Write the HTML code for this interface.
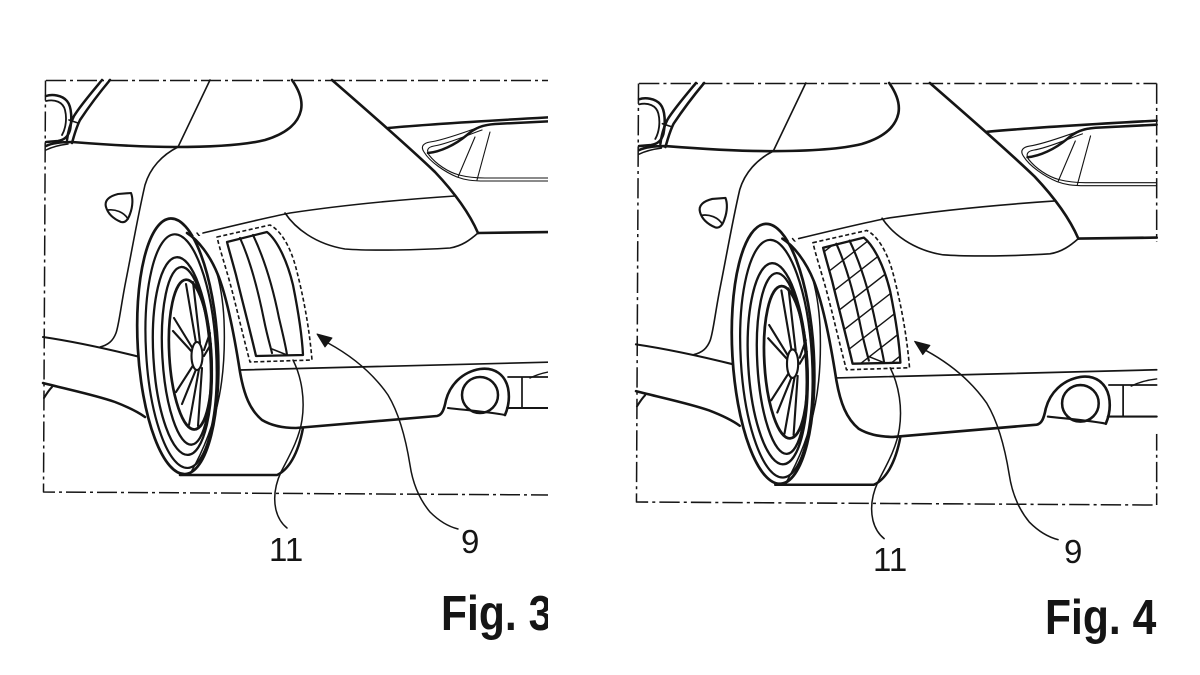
<!DOCTYPE html>
<html><head><meta charset="utf-8"><style>
html,body{margin:0;padding:0;background:#fff;}
svg{display:block;}
text{font-family:"Liberation Sans",Arial,sans-serif;fill:#151515;}
</style></head><body>
<svg width="1200" height="675" viewBox="0 0 1200 675" xmlns="http://www.w3.org/2000/svg">
<defs>
<clipPath id="c3"><rect x="0" y="0" width="548" height="675"/></clipPath>
<clipPath id="vc"><path d="M227,242 L267,232 C277,240 287,260 293,285 C298,310 302,335 303,355 L256,356 C250,330 242,300 236,275 C232,260 229,250 227,242 Z"/></clipPath>
<g id="car" fill="none" stroke="#151515" stroke-linecap="round" stroke-linejoin="round">
  <!-- frame -->
  <path d="M46,80.5 L555,80.5 M45.5,80.5 L43.5,492 L555,495 M555,80.5 L555,495" stroke-width="1.5" stroke-dasharray="20 4 3 4" stroke-linecap="butt"/>
  <!-- mirror -->
  <path d="M46,96 C52,94 62,95 67,101 C72,107 72,120 70,130 C68,137 64,140 58,141 L46,142" stroke-width="2.5"/>
  <path d="M46,101 C55,99 63,102 65,110 C67,118 66,128 62,135" stroke-width="1.8"/>
  <!-- A pillar -->
  <path d="M102,80 C92,92 80,106 74,116 C70,124 68,132 67,140" stroke-width="2.5"/>
  <path d="M110,80 C100,92 88,108 80,120 C76,128 74,136 72,143" stroke-width="2.5"/>
  <path d="M69,120 L78,123" stroke-width="1.6"/>
  <!-- window bottom / quarter window -->
  <path d="M46,146 C52,143 60,142 72,142 C110,145 150,147 175,147 C210,147 245,145 265,140 C285,134 298,124 301,110 C303,100 299,90 292,80" stroke-width="2.6"/>
  <path d="M46,150 C52,147 60,145 68,144" stroke-width="1.5"/>
  <!-- door / B line -->
  <path d="M210,80 L178,147 C162,155 150,168 145,185 C138,215 132,250 126,280 C121,305 119,325 116,333 C113,341 108,345 100,347" stroke-width="1.6"/>
  <!-- fuel cap -->
  <path d="M106,207 C104,200 110,196 118,194 L131,193 C133,198 133,206 130,214 C128,220 125,223 121,222 C114,219 108,214 106,207 Z" stroke-width="2.1"/>
  <path d="M108,210 C115,209 124,212 128,219" stroke-width="1.7"/>
  <!-- sill -->
  <path d="M43,337 C70,341 100,347 140,357" stroke-width="2.1"/>
  <path d="M43,383 C70,390 95,395 115,402 C128,407 138,412 145,417" stroke-width="2.5"/>
  <path d="M44,398 C47,393 49,390 52,387" stroke-width="2"/>
  <!-- wheel -->
  <g transform="rotate(-3.3 183 350)">
    <ellipse cx="178" cy="346" rx="40" ry="128" fill="#fff" stroke-width="2.7"/>
    <ellipse cx="181" cy="351" rx="35" ry="117" stroke-width="2.2"/>
    <ellipse cx="182" cy="356" rx="29" ry="99" stroke-width="2.3"/>
    <ellipse cx="186" cy="356" rx="24" ry="89" stroke-width="2.3"/>
    <ellipse cx="190" cy="355" rx="21" ry="75" stroke-width="2.7"/>
  </g>
  <path d="M196,343 L186,284 M200,343 L193,282 M193,349 L174,318 M193,353 L173,331 M194,364 L176,392 M197,367 L182,404 M199,369 L189,425 M202,368 L198,426 M204,350 L210,333 M204,356 L211,344" stroke-width="2.1"/>
  <ellipse cx="197" cy="356" rx="5.5" ry="14" fill="#fff" stroke-width="2.1"/>
  <path d="M197,233 C212,250 222,280 224,320 C226,370 221,420 190,474" stroke-width="1.5"/>
  <path d="M180,475 L277,475 C288,470 298,455 303,428" stroke-width="2.5"/>
  <!-- body mask -->
  <path d="M190,236 C200,243 210,255 218,275 C228,300 235,340 240,372 C244,395 250,410 262,420 C272,426 284,428 296,428 L560,425 L560,236 Z" fill="#fff" stroke="none"/>
  <!-- fender + bumper lower line -->
  <path d="M187,233 C198,240 210,255 218,275 C228,300 235,340 240,372 C244,395 250,410 262,420 C272,426 284,428 296,428 L437,416 C442,415 444,410 446,400 C450,385 462,372 480,369 C495,367 505,375 508,388 C510,398 508,408 505,415" stroke-width="2.6"/>
  <path d="M448,408 C465,410 490,412 505,415" stroke-width="2.1"/>
  <circle cx="480" cy="395" r="18" stroke-width="2.5"/>
  <path d="M508,377 L555,377 M522,377 L522,408" stroke-width="1.7"/>
  <path d="M507,408 L555,408" stroke-width="2.1"/>
  <path d="M530,378 C538,374 546,372 555,371" stroke-width="1.4"/>
  <!-- bumper upper line -->
  <path d="M240,370 L555,362" stroke-width="1.7"/>
  <!-- crease line -->
  <path d="M203,233 C240,224 270,217 290,213 C330,207 380,201 455,196" stroke-width="1.6"/>
  <!-- tail lower curve -->
  <path d="M285,213 C295,228 315,244 345,249 C370,251 420,250 450,248 C462,246 470,240 478,233" stroke-width="1.6"/>
  <path d="M478,233 L555,232" stroke-width="2.6"/>
  <!-- C pillar -->
  <path d="M332,80 C370,113 410,148 435,172 C452,190 468,210 478,233" stroke-width="2.6"/>
  <!-- rear window / wing -->
  <path d="M388,128 C430,124 500,120 555,117" stroke-width="2.5"/>
  <path d="M428,153 C440,152 455,145 467,135 C475,128 482,125 495,124 L555,121" stroke-width="2.5"/>
  <path d="M480,127 C470,130 445,140 430,142 C424,143 420,146 424,152 C430,162 445,172 457,177 C465,180 472,181 485,181 L555,181" stroke-width="1.1"/>
  <path d="M482,130 C470,134 448,144 434,146 C428,147 426,150 429,155 C436,164 448,172 459,175 C467,177 475,178 485,178 L555,178" stroke-width="1.1"/>
  <path d="M475,137 L458,177 M490,132 L477,180" stroke-width="1.1"/>
  <!-- vent -->
  <path d="M217,237 L270,225 C280,230 290,245 296,268 C303,295 309,325 312,360 L250,362 C244,340 236,305 230,283 C225,265 220,250 217,237 Z" stroke-width="1.6" stroke-dasharray="4 2.5" stroke-linecap="butt"/>
  <path d="M227,242 L267,232 C277,240 287,260 293,285 C298,310 302,335 303,355 L256,356 C250,330 242,300 236,275 C232,260 229,250 227,242 Z" stroke-width="2.3"/>
  <path d="M240,238 C250,260 258,290 264,320 C267,335 270,345 272,353 M253,235 C264,258 273,288 279,318 C283,335 286,347 287,355" stroke-width="2.1"/>
  <path d="M272,349 L287,355" stroke-width="1.5"/>
  <!-- leaders -->
  <path d="M293,360 C302,378 305,400 302,420 C299,440 288,458 281,472 C275,485 273,497 276,510 C278,518 282,524 287,528" stroke-width="1.5"/>
  <path d="M328,343 C350,355 372,372 388,395 C400,415 406,440 410,465 C413,485 420,500 430,512 C440,522 450,527 458,529" stroke-width="1.5"/>
  <polygon points="317,334 332,338 325,347" fill="#151515" stroke-width="1"/>
</g>
</defs>

<g clip-path="url(#c3)">
  <use href="#car"/>
  <text x="269" y="561" font-size="33">11</text>
  <text x="461" y="553" font-size="33">9</text>
  <text transform="translate(441,630) scale(0.87,1)" font-size="49" font-weight="bold">Fig. 3</text>
</g>

<g transform="translate(638,83) scale(1.017) translate(-45,-80)">
  <use href="#car"/>
  <g clip-path="url(#vc)" fill="none" stroke="#151515" stroke-width="1.4">
    <path d="M215,256 L315,178 M215,279 L315,201 M215,302 L315,224 M215,325 L315,247 M215,348 L315,270 M215,371 L315,293 M215,394 L315,316 M215,417 L315,339 M215,440 L315,362"/>
  </g>
</g>
<text x="873" y="571" font-size="33">11</text>
<text x="1064" y="563" font-size="33">9</text>
<text transform="translate(1045,634) scale(0.87,1)" font-size="49" font-weight="bold">Fig. 4</text>
</svg>
</body></html>
